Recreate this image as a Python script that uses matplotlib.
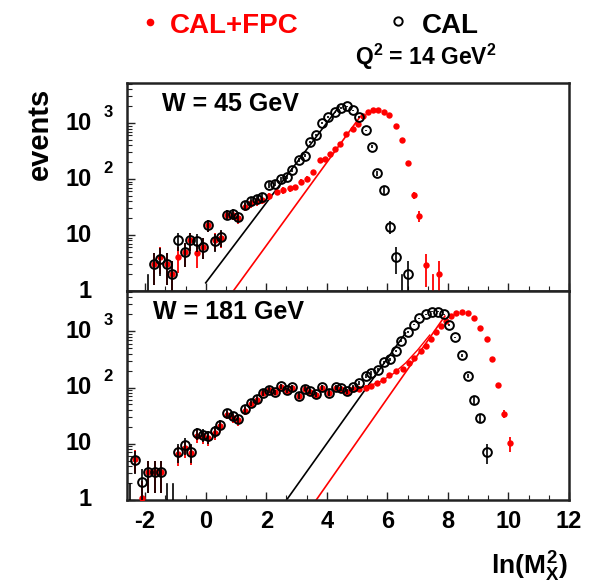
import numpy as np
import matplotlib
matplotlib.use("Agg")
import matplotlib.pyplot as plt
import matplotlib.transforms as mtransforms
from matplotlib.lines import Line2D
from matplotlib.ticker import MultipleLocator, LogLocator, NullFormatter

plt.rcParams['font.family'] = ['Liberation Sans', 'DejaVu Sans']
plt.rcParams['font.weight'] = 'bold'
plt.rcParams['mathtext.fontset'] = 'custom'
plt.rcParams['mathtext.rm'] = 'Liberation Sans:bold'
plt.rcParams['mathtext.it'] = 'Liberation Sans:bold'
plt.rcParams['mathtext.bf'] = 'Liberation Sans:bold'
plt.rcParams['axes.unicode_minus'] = False

# ---- W = 45 GeV panel ----
w45_cal_x = [-1.72, -1.50, -1.29, -1.12, -0.90, -0.70, -0.52, -0.30, -0.10, 0.09,
             0.30, 0.49, 0.69, 0.89, 1.08, 1.29, 1.49, 1.68, 1.87, 2.08,
             2.28, 2.48, 2.67, 2.86, 3.07, 3.27, 3.46, 3.65, 3.85, 4.04,
             4.26, 4.48, 4.68, 4.86, 5.06, 5.28, 5.50, 5.67, 5.89, 6.10,
             6.27, 6.68]
w45_cal_n = [3.0, 3.8, 3.0, 2.0, 8.1, 4.9, 8.1, 7.8, 6.2, 15,
             7.8, 9.1, 23, 24, 21, 34, 40, 44, 48, 78,
             83, 100, 110, 145, 220, 263, 457, 603, 1000, 1290,
             1550, 1860, 2000, 1700, 1290, 740, 380, 126, 63, 14,
             4.0, 2.0]
w45_fpc_x = [-1.72, -1.50, -1.29, -1.12, -0.90, -0.70, -0.52, -0.30, -0.10, 0.09,
             0.30, 0.49, 0.69, 0.89, 1.08, 1.29, 1.49, 1.68, 1.87, 2.08,
             2.34, 2.56, 2.78, 2.94, 3.16, 3.33, 3.54, 3.76, 3.93, 4.10,
             4.26, 4.43, 4.64, 4.86, 5.03, 5.20, 5.35, 5.52, 5.69, 5.89,
             6.07, 6.27, 6.49, 6.68, 6.87, 7.06, 7.28, 7.70]
w45_fpc_n = [3.0, 4.0, 3.0, 2.0, 4.1, 4.9, 8.1, 4.7, 6.2, 15,
             8.1, 8.7, 23, 23, 20, 32, 37, 40, 42, 50,
             59, 63, 68, 71, 89, 102, 135, 219, 229, 275,
             347, 427, 646, 794, 977, 1318, 1549, 1700, 1740, 1585,
             1380, 871, 490, 190, 51, 22, 2.9, 2.0]
w45_cal_zero_x = [-1.89, 6.48]
w45_fpc_zero_x = [7.50]
w45_cal_line_x = [0.0, 4.4]
w45_cal_line_n = [1.4, 1950]
w45_fpc_line_x = [0.91, 5.1]
w45_fpc_line_n = [1.0, 1300]

# ---- W = 181 GeV panel ----
w181_cal_x = [-2.32, -2.11, -1.89, -1.69, -1.48, -0.90, -0.70, -0.49, -0.30, -0.10,
              0.09, 0.30, 0.47, 0.69, 0.89, 1.08, 1.29, 1.49, 1.68, 1.90,
              2.08, 2.28, 2.48, 2.67, 2.86, 3.07, 3.27, 3.46, 3.65, 3.85,
              4.07, 4.30, 4.48, 4.68, 4.86, 5.06, 5.28, 5.47, 5.69, 5.89,
              6.08, 6.27, 6.46, 6.68, 6.88, 7.06, 7.28, 7.48, 7.67, 7.86,
              8.05, 8.25, 8.47, 8.68, 8.87, 9.07, 9.30]
w181_cal_n = [5.1, 2.1, 3.1, 3.1, 3.1, 7.2, 9.5, 7.2, 15.5, 14.5,
              13.5, 16.6, 21.9, 35.5, 30.9, 27.5, 40.7, 53.7, 61.7, 81,
              91, 83, 105, 89, 102, 72, 95, 85, 76, 102,
              81, 102, 98, 85, 102, 120, 158, 182, 209, 282,
              316, 447, 676, 977, 1318, 1700, 2000, 2240, 2240, 2000,
              1290, 776, 372, 162, 59, 29, 7.1]
w181_fpc_x = [-2.32, -2.11, -1.89, -1.69, -1.48, -0.90, -0.70, -0.49, -0.30, -0.10,
              0.09, 0.30, 0.47, 0.69, 0.89, 1.08, 1.29, 1.49, 1.68, 1.90,
              2.08, 2.28, 2.48, 2.67, 2.86, 3.07, 3.27, 3.46, 3.65, 3.85,
              4.07, 4.30, 4.48, 4.68, 4.86, 5.06, 5.28, 5.47, 5.66, 5.85,
              6.07, 6.29, 6.51, 6.73, 6.89, 7.11, 7.28, 7.44, 7.61, 7.77,
              7.94, 8.10, 8.27, 8.47, 8.68, 8.87, 9.07, 9.29, 9.45, 9.67,
              9.86, 10.05]
w181_fpc_n = [5.3, 1.1, 3.1, 3.1, 3.1, 6.5, 8.5, 6.8, 14, 13.5,
              12.5, 15.5, 20.5, 33, 29, 26, 38, 51, 60, 80,
              90, 82, 103, 88, 100, 70, 93, 83, 74, 100,
              79, 98, 95, 82, 96, 95, 100, 107, 120, 138,
              166, 195, 214, 269, 339, 447, 550, 724, 977, 1259,
              1514, 1862, 2138, 2240, 2090, 1700, 1122, 741, 324, 112,
              34, 10.2]
w181_cal_zero_x = [-2.49, -1.28, -1.08]
w181_fpc_zero_x = []
w181_cal_line_x = [2.67, 6.6]
w181_cal_line_n = [1.0, 930]
w181_fpc_line_x = [3.65, 7.9]
w181_fpc_line_n = [1.0, 1860]
w181_fpc_sum_x = [4.6, 5.0, 5.4, 5.8, 6.2, 6.6, 7.0, 7.4]
w181_fpc_sum_n = [85, 96, 107, 130, 177, 272, 465, 855]

x_ticks = [-2, 0, 2, 4, 6, 8, 10, 12]
x_tick_labels = ["-2", "0", "2", "4", "6", "8", "10", "12"]
y_ticks = [1, 10, 100, 1000]
y_tick_base = ["1", "10", "10", "10"]
y_tick_exp = ["", "", "2", "3"]

RED = "#ff0000"
FRAME = "#222222"
W, H = 597, 584

fig = plt.figure(figsize=(W / 100, H / 100), dpi=100)


def px_box(left, top, right, bottom):
    return [left / W, 1 - bottom / H, (right - left) / W, (bottom - top) / H]


def draw_panel(ax, cal_x, cal_n, fpc_x, fpc_n, cal_zero, fpc_zero,
               cl_x, cl_n, fl_x, fl_n, show_xlabels, sum_x=None, sum_n=None):
    ylo = 0.5
    fpc_n = np.array(fpc_n, float)
    cal_n = np.array(cal_n, float)
    fpc_err = np.sqrt(fpc_n)
    cal_err = np.sqrt(cal_n)
    # red (CAL+FPC) first, black open circles on top
    ax.errorbar(fpc_x, fpc_n, yerr=[np.minimum(fpc_err, fpc_n - ylo * 0.5), fpc_err],
                fmt='o', color=RED, ms=4.6, mew=0, elinewidth=1.3, capsize=0, zorder=3)
    ax.errorbar(cal_x, cal_n, yerr=[np.minimum(cal_err, cal_n - ylo * 0.5), cal_err],
                fmt='o', mfc='none', mec='black', ecolor='black', ms=6.3, mew=1.4,
                elinewidth=1.2, capsize=0, zorder=4)
    for zx in cal_zero:
        ax.plot([zx, zx], [ylo, 1.9], color='black', lw=1.2, zorder=4)
    for zx in fpc_zero:
        ax.plot([zx, zx], [ylo, 1.9], color=RED, lw=1.3, zorder=3)
    ax.plot(cl_x, cl_n, color='black', lw=1.2, zorder=2)
    ax.plot(fl_x, fl_n, color=RED, lw=1.2, zorder=2)
    if sum_x is not None:
        ax.plot(sum_x, sum_n, color=RED, lw=1.0, zorder=2)

    ax.set_yscale('log')
    ax.set_xlim(-2.6, 12.0)
    ax.set_ylim(1, 5200)
    ax.xaxis.set_major_locator(MultipleLocator(2))
    ax.xaxis.set_minor_locator(MultipleLocator(2 / 3))
    ax.set_yticks(y_ticks)
    ax.yaxis.set_minor_locator(LogLocator(base=10, subs=range(2, 10)))
    ax.yaxis.set_minor_formatter(NullFormatter())
    ax.set_yticklabels([])
    ax.tick_params(which='both', direction='in', top=False, right=False, color=FRAME)
    ax.tick_params(which='major', length=6, width=1.0)
    ax.tick_params(which='minor', length=3.5, width=0.8)
    if show_xlabels:
        ax.set_xticks(x_ticks)
        ax.set_xticklabels(x_tick_labels, fontsize=17, fontweight='bold')
        ax.tick_params(axis='x', pad=7)
    else:
        ax.set_xticklabels([])
    for sp in ax.spines.values():
        sp.set_linewidth(1.8)
        sp.set_color(FRAME)
    blend = mtransforms.blended_transform_factory(ax.transAxes, ax.transData)
    for v, base, ex in zip(y_ticks, y_tick_base, y_tick_exp):
        ax.text(-0.079, v, base, transform=blend, ha='right', va='center',
                fontsize=17, fontweight='bold')
        if ex:
            ax.text(-0.054, v * 1.57, ex, transform=blend, ha='left', va='center',
                    fontsize=12, fontweight='bold')


ax1 = fig.add_axes(px_box(127, 83, 569, 291))
ax2 = fig.add_axes(px_box(127, 291, 569, 500))

draw_panel(ax1, w45_cal_x, w45_cal_n, w45_fpc_x, w45_fpc_n, w45_cal_zero_x,
           w45_fpc_zero_x, w45_cal_line_x, w45_cal_line_n, w45_fpc_line_x,
           w45_fpc_line_n, False)
draw_panel(ax2, w181_cal_x, w181_cal_n, w181_fpc_x, w181_fpc_n, w181_cal_zero_x,
           w181_fpc_zero_x, w181_cal_line_x, w181_cal_line_n, w181_fpc_line_x,
           w181_fpc_line_n, True, w181_fpc_sum_x, w181_fpc_sum_n)

# legend-like header
fig.add_artist(Line2D([150 / W], [1 - 22 / H], marker='o', color=RED, ms=5.5, mew=0,
                      transform=fig.transFigure))
fig.text(170 / W, 1 - 33 / H, "CAL+FPC", color=RED, fontsize=20, fontweight='bold',
         ha='left', va='baseline')
fig.add_artist(Line2D([398 / W], [1 - 21 / H], marker='o', mfc='none', mec='black',
                      ms=6, mew=1.4, transform=fig.transFigure))
fig.text(422 / W, 1 - 33 / H, "CAL", color='black', fontsize=20, fontweight='bold',
         ha='left', va='baseline')
fig.text(497 / W, 1 - 65 / H, r"Q$^2$ = 14 GeV$^2$", fontsize=16.5, fontweight='bold',
         ha='right', va='baseline')

fig.text(162 / W, 1 - 111 / H, "W = 45 GeV", fontsize=18, fontweight='bold',
         ha='left', va='baseline')
fig.text(153 / W, 1 - 319 / H, "W = 181 GeV", fontsize=18, fontweight='bold',
         ha='left', va='baseline')

fig.text(40 / W, 1 - 134 / H, "events", fontsize=21, fontweight='bold', rotation=90,
         ha='center', va='center')
fig.text(568 / W, 1 - 575 / H, r"$\ln(M_X^2)$", fontsize=19, ha='right', va='baseline')

fig.savefig("out.png", dpi=100)
